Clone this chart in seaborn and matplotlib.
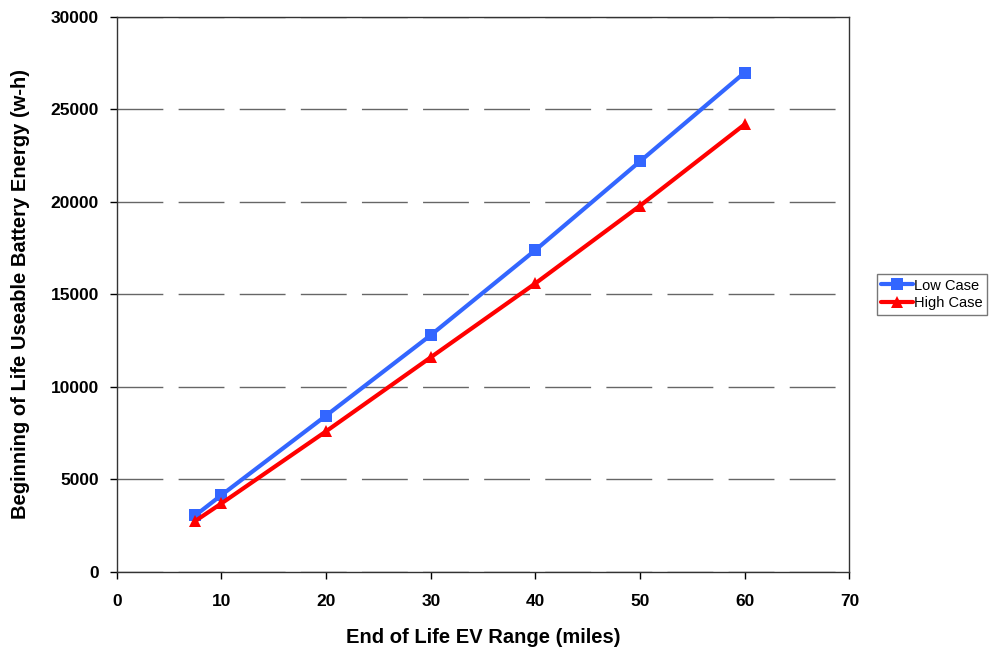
import pandas as pd
import numpy as np
import matplotlib
matplotlib.use('Agg')
import matplotlib.pyplot as plt
import seaborn as sns

# Data
ev_range = [7.5, 10, 20, 30, 40, 50, 60]
low_case = [3050, 4150, 8450, 12800, 17400, 22200, 27000]
high_case = [2750, 3700, 7600, 11600, 15600, 19800, 24200]

df = pd.DataFrame({'range': ev_range * 2,
                   'energy': low_case + high_case,
                   'case': ['Low Case'] * len(ev_range) + ['High Case'] * len(ev_range)})

sns.set_style('white')
plt.rcParams['font.family'] = ['Liberation Sans', 'DejaVu Sans']
plt.rcParams['text.color'] = 'black'
plt.rcParams['axes.labelcolor'] = 'black'
plt.rcParams['xtick.color'] = 'black'
plt.rcParams['ytick.color'] = 'black'

fig = plt.figure(figsize=(9.9, 6.55), dpi=100)
ax = fig.add_axes([0.118, 0.127, 0.74, 0.847])

sns.lineplot(data=df, x='range', y='energy', hue='case', style='case',
             palette={'Low Case': '#3366FF', 'High Case': '#FF0000'},
             markers={'Low Case': 's', 'High Case': '^'}, dashes=False,
             linewidth=3, markersize=8, markeredgewidth=0, ax=ax)

ax.set_xlim(0, 70)
ax.set_ylim(0, 30000)
ax.set_xticks(range(0, 71, 10))
ax.set_yticks(range(0, 30001, 5000))
ax.tick_params(axis='both', labelsize=12.5, length=5, width=1, direction='out', bottom=True, left=True)
ax.tick_params(axis='x', pad=11)
ax.tick_params(axis='y', pad=8)
for lbl in ax.get_xticklabels() + ax.get_yticklabels():
    lbl.set_fontweight('bold')
ax.yaxis.grid(True, color='#666666', linestyle=(0, (33, 11)), linewidth=1)
ax.set_axisbelow(True)
for s in ax.spines.values():
    s.set_color('#333333')
    s.set_linewidth(1)

ax.set_xlabel('End of Life EV Range (miles)', fontsize=14.5, fontweight='bold', labelpad=14)
ax.set_ylabel('Beginning of Life Useable Battery Energy (w-h)', fontsize=14.5, fontweight='bold', labelpad=15)

# legend sits outside the plot on the right
leg = ax.legend(loc='center left', bbox_to_anchor=(1.037, 0.50), frameon=True, fancybox=False,
                fontsize=10.5, handlelength=2.2, borderpad=0.3, labelspacing=0.25,
                handletextpad=0.05, borderaxespad=0)
leg.get_frame().set_edgecolor('#555555')
leg.get_frame().set_linewidth(1)

plt.savefig('out.png', dpi=100)
